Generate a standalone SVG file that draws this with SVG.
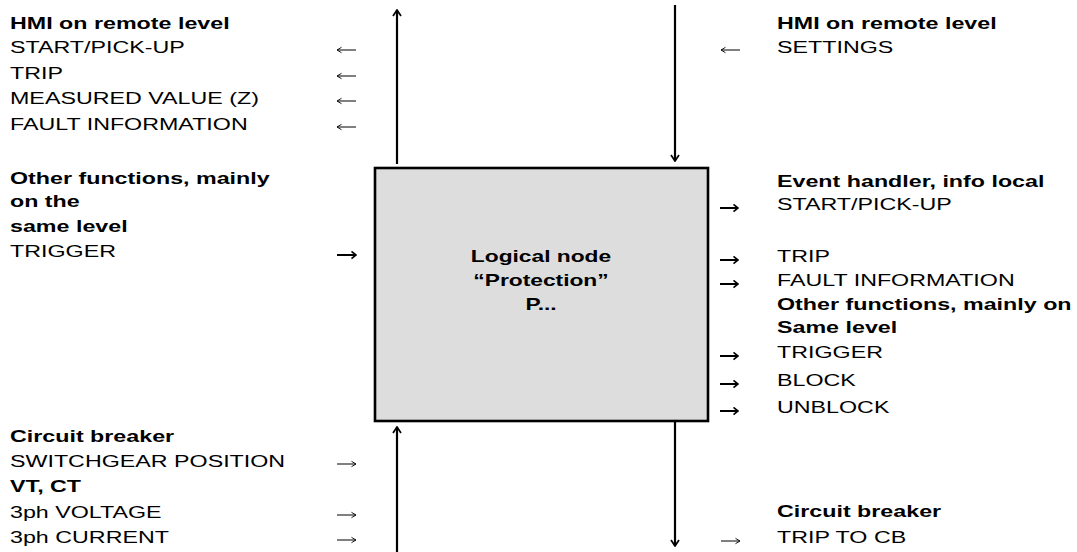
<svg xmlns="http://www.w3.org/2000/svg" width="1077" height="552" viewBox="0 0 1077 552">
  <defs>
    <style>
      text { font-family: "Liberation Sans", Arial, sans-serif; font-size: 16.5px; fill: #000; }
      .b { font-weight: bold; }
      .wire { stroke: #000; stroke-width: 2.2; fill: none; }
      .thin { stroke: #000; stroke-width: 1; fill: none; }
      .thick { stroke: #000; stroke-width: 2; fill: none; }
      .box { fill: #dddddd; stroke: #000; stroke-width: 2.6; }
    </style>
    <marker id="head" viewBox="0 0 10 10" refX="9" refY="5" markerWidth="10" markerHeight="10" markerUnits="userSpaceOnUse" orient="auto">
      <polyline points="3,1 9,5 3,9" fill="none" stroke="#000" stroke-width="1.7"/>
    </marker>
    <marker id="headThin" viewBox="0 0 10 10" refX="9" refY="5" markerWidth="9" markerHeight="9" markerUnits="userSpaceOnUse" orient="auto">
      <polyline points="4,2 9,5 4,8" fill="none" stroke="#000" stroke-width="1"/>
    </marker>
    <marker id="headBold" viewBox="0 0 10 10" refX="9" refY="5" markerWidth="9" markerHeight="9" markerUnits="userSpaceOnUse" orient="auto">
      <polyline points="4,1 9,5 4,9" fill="none" stroke="#000" stroke-width="1.8"/>
    </marker>
  </defs>

  <!-- central logical node -->
  <g id="node-protection">
    <rect class="box" x="375" y="168" width="333" height="253"/>
    <g transform="translate(541,0) scale(1.38,1)">
      <text class="b" x="0" y="262" text-anchor="middle">Logical node</text>
      <text class="b" x="0" y="286" text-anchor="middle">“Protection”</text>
      <text class="b" x="0" y="310" text-anchor="middle">P...</text>
    </g>
  </g>

  <!-- HMI remote level, outputs -->
  <g id="node-hmi-out" transform="translate(10,0) scale(1.41,1)">
    <text class="b" x="0" y="29">HMI on remote level</text>
    <text x="0" y="53">START/PICK-UP</text>
    <text x="0" y="79">TRIP</text>
    <text x="0" y="104">MEASURED VALUE (Z)</text>
    <text x="0" y="130">FAULT INFORMATION</text>
  </g>

  <!-- HMI remote level, settings -->
  <g id="node-hmi-in" transform="translate(777,0) scale(1.41,1)">
    <text class="b" x="0" y="29">HMI on remote level</text>
    <text x="0" y="53">SETTINGS</text>
  </g>

  <!-- other functions feeding in -->
  <g id="node-other-in" transform="translate(10,0) scale(1.41,1)">
    <text class="b" x="0" y="184">Other functions, mainly</text>
    <text class="b" x="0" y="207">on the</text>
    <text class="b" x="0" y="232">same level</text>
    <text x="0" y="257">TRIGGER</text>
  </g>

  <!-- event handler and other functions fed out -->
  <g id="node-event" transform="translate(777,0) scale(1.41,1)">
    <text class="b" x="0" y="187">Event handler, info local</text>
    <text x="0" y="210">START/PICK-UP</text>
    <text x="0" y="262">TRIP</text>
    <text x="0" y="286">FAULT INFORMATION</text>
  </g>
  <g id="node-other-out" transform="translate(777,0) scale(1.41,1)">
    <text class="b" x="0" y="310">Other functions, mainly on</text>
    <text class="b" x="0" y="333">Same level</text>
    <text x="0" y="358">TRIGGER</text>
    <text x="0" y="386">BLOCK</text>
    <text x="0" y="413">UNBLOCK</text>
  </g>

  <!-- process inputs -->
  <g id="node-process-in" transform="translate(10,0) scale(1.41,1)">
    <text class="b" x="0" y="442">Circuit breaker</text>
    <text x="0" y="467">SWITCHGEAR POSITION</text>
    <text class="b" x="0" y="492">VT, CT</text>
    <text x="0" y="518">3ph VOLTAGE</text>
    <text x="0" y="543">3ph CURRENT</text>
  </g>

  <!-- process output -->
  <g id="node-process-out" transform="translate(777,0) scale(1.41,1)">
    <text class="b" x="0" y="517">Circuit breaker</text>
    <text x="0" y="543">TRIP TO CB</text>
  </g>

  <g id="connectors">
    <!-- vertical buses -->
    <line class="wire" x1="397" y1="164" x2="397" y2="10" marker-end="url(#head)"/>
    <line class="wire" x1="675" y1="5" x2="675" y2="161" marker-end="url(#head)"/>
    <line class="wire" x1="397" y1="552" x2="397" y2="427" marker-end="url(#head)"/>
    <line class="wire" x1="675" y1="421" x2="675" y2="546" marker-end="url(#head)"/>

    <!-- signal arrows, left side -->
    <line class="thin" x1="356" y1="50" x2="337" y2="50" marker-end="url(#headThin)"/>
    <line class="thin" x1="356" y1="76" x2="337" y2="76" marker-end="url(#headThin)"/>
    <line class="thin" x1="356" y1="101" x2="337" y2="101" marker-end="url(#headThin)"/>
    <line class="thin" x1="356" y1="127" x2="337" y2="127" marker-end="url(#headThin)"/>
    <line class="thick" x1="337" y1="255" x2="356" y2="255" marker-end="url(#headBold)"/>
    <line class="thin" x1="337" y1="464" x2="356" y2="464" marker-end="url(#headThin)"/>
    <line class="thin" x1="337" y1="515" x2="356" y2="515" marker-end="url(#headThin)"/>
    <line class="thin" x1="337" y1="540" x2="356" y2="540" marker-end="url(#headThin)"/>

    <!-- signal arrows, right side -->
    <line class="thin" x1="740" y1="50" x2="721" y2="50" marker-end="url(#headThin)"/>
    <line class="thick" x1="720" y1="208" x2="738" y2="208" marker-end="url(#headBold)"/>
    <line class="thick" x1="720" y1="260" x2="738" y2="260" marker-end="url(#headBold)"/>
    <line class="thick" x1="720" y1="284" x2="738" y2="284" marker-end="url(#headBold)"/>
    <line class="thick" x1="720" y1="356" x2="738" y2="356" marker-end="url(#headBold)"/>
    <line class="thick" x1="720" y1="384" x2="738" y2="384" marker-end="url(#headBold)"/>
    <line class="thick" x1="720" y1="411" x2="738" y2="411" marker-end="url(#headBold)"/>
    <line class="thin" x1="721" y1="541" x2="740" y2="541" marker-end="url(#headThin)"/>
  </g>
</svg>
